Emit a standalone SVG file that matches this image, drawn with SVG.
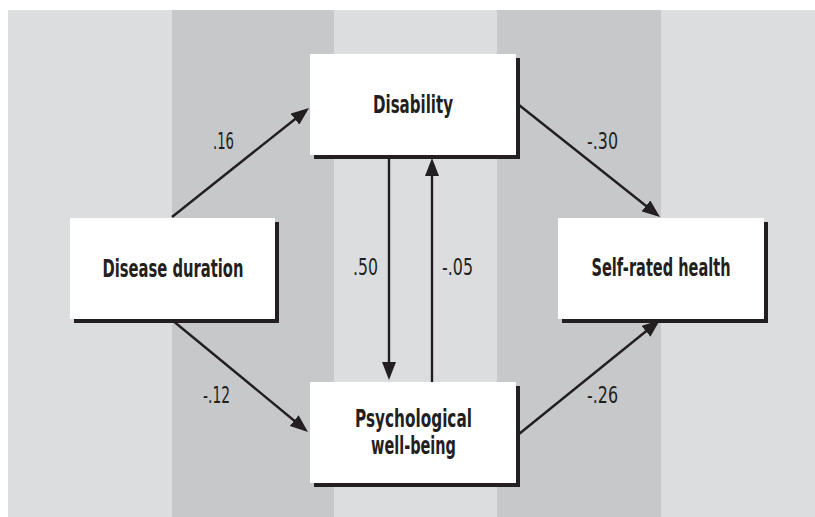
<svg xmlns="http://www.w3.org/2000/svg" width="815" height="517" viewBox="0 0 815 517">
<style>
.lt{fill:#dcdddf}
.dk{fill:#c7c8ca}
.box{fill:#ffffff}
.sh{fill:#231f20}
.edge{stroke:#231f20;stroke-width:2.4;fill:none;marker-end:url(#ah)}
.nt{font-family:"DejaVu Sans Condensed","Liberation Sans",sans-serif;font-weight:bold;font-size:24px;fill:#231f20;text-anchor:middle}
.lb{font-family:"DejaVu Sans Condensed","Liberation Sans",sans-serif;font-size:23px;fill:#231f20}
</style>
<defs>
<marker id="ah" markerUnits="userSpaceOnUse" viewBox="0 0 18 14" markerWidth="18" markerHeight="14" refX="12" refY="7" orient="auto">
<path d="M0,0 L18,7 L0,14 Z" fill="#231f20"/>
</marker>
</defs>
<rect x="0" y="0" width="815" height="517" fill="#ffffff"/>
<g id="background">
<rect class="lt" x="8" y="10" width="164" height="507"/>
<rect class="dk" x="172" y="10" width="162" height="507"/>
<rect class="lt" x="334" y="10" width="163" height="507"/>
<rect class="dk" x="497" y="10" width="164" height="507"/>
<rect class="lt" x="661" y="10" width="154" height="507"/>
</g>
<g id="connectors">
<line class="edge" x1="172" y1="217" x2="304.3" y2="111.7"/>
<line class="edge" x1="172" y1="320" x2="303.4" y2="428.2"/>
<line class="edge" x1="519" y1="105" x2="655.3" y2="213.3"/>
<line class="edge" x1="519" y1="434" x2="655.3" y2="323.8"/>
<line class="edge" x1="389" y1="159" x2="389" y2="374"/>
<line class="edge" x1="432" y1="382" x2="432" y2="164"/>
<text class="lb" x="213" y="149" textLength="21" lengthAdjust="spacingAndGlyphs">.16</text>
<text class="lb" x="203" y="403" textLength="27" lengthAdjust="spacingAndGlyphs">-.12</text>
<text class="lb" x="353" y="275" textLength="25" lengthAdjust="spacingAndGlyphs">.50</text>
<text class="lb" x="442" y="275" textLength="31" lengthAdjust="spacingAndGlyphs">-.05</text>
<text class="lb" x="587" y="149" textLength="31" lengthAdjust="spacingAndGlyphs">-.30</text>
<text class="lb" x="587" y="403" textLength="31" lengthAdjust="spacingAndGlyphs">-.26</text>
</g>
<g id="disease-duration">
<rect class="sh" x="74" y="222" width="205" height="101"/>
<rect class="box" x="70" y="218" width="205" height="101"/>
<text class="nt" x="173" y="277" textLength="141" lengthAdjust="spacingAndGlyphs">Disease duration</text>
</g>
<g id="disability">
<rect class="sh" x="314" y="58" width="206" height="101"/>
<rect class="box" x="310" y="54" width="206" height="101"/>
<text class="nt" x="413" y="113" textLength="80" lengthAdjust="spacingAndGlyphs">Disability</text>
</g>
<g id="psychological-well-being">
<rect class="sh" x="314" y="386" width="206" height="101"/>
<rect class="box" x="310" y="382" width="206" height="101"/>
<text class="nt" x="413.5" y="427" textLength="117" lengthAdjust="spacingAndGlyphs">Psychological</text>
<text class="nt" x="413.5" y="454" textLength="85" lengthAdjust="spacingAndGlyphs">well-being</text>
</g>
<g id="self-rated-health">
<rect class="sh" x="562" y="222" width="206" height="101"/>
<rect class="box" x="558" y="218" width="206" height="101"/>
<text class="nt" x="661" y="276" textLength="139" lengthAdjust="spacingAndGlyphs">Self-rated health</text>
</g>
</svg>
